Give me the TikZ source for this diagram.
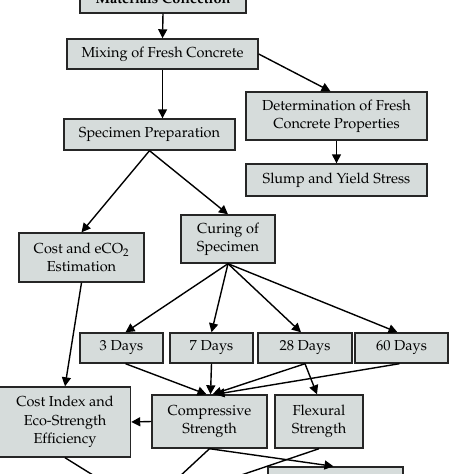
\documentclass[tikz,border=0pt]{standalone}
\usepackage[T1]{fontenc}
\usepackage{mathpazo}
\usetikzlibrary{arrows.meta}
\definecolor{boxfill}{RGB}{214,220,219}
\tikzset{box/.style={draw=black!85,fill=boxfill,line width=1.4pt,align=center,inner sep=0pt,font=\fontsize{14.5}{18.3}\selectfont},
  arr/.style={line width=1.4pt,-{Triangle[length=9pt,width=9pt]}}}
\begin{document}
\begin{tikzpicture}[x=1pt,y=-1pt]
\useasboundingbox (0,0) rectangle (474,474);
\clip (0,0) rectangle (474,474);
\node[box,minimum width=166pt,minimum height=30pt,font=\bfseries\fontsize{14.5}{18.3}\selectfont] at (163,-2) (a) {Materials Collection};
\node[box,minimum width=191pt,minimum height=30pt] at (162.5,54) (b) {Mixing of Fresh Concrete};
\node[box,minimum width=171pt,minimum height=31pt] at (149.5,134.5) (c) {Specimen Preparation};
\node[box,minimum width=181pt,minimum height=48pt] at (336.5,116) (d) {Determination of Fresh\\Concrete Properties};
\node[box,minimum width=181pt,minimum height=32pt] at (336.5,180) (e) {Slump and Yield Stress};
\node[box,minimum width=125pt,minimum height=49pt] at (81.5,257.5) (f) {Cost and eCO\textsubscript{2}\\Estimation};
\node[box,minimum width=94pt,minimum height=48pt] at (228,239) (g) {Curing of\\Specimen};
\node[box,minimum width=83pt,minimum height=30pt] at (121.5,348) (h) {3 Days};
\node[box,minimum width=83pt,minimum height=30pt] at (211.5,348) (i) {7 Days};
\node[box,minimum width=94pt,minimum height=30pt] at (305,348) (j) {28 Days};
\node[box,minimum width=93pt,minimum height=30pt] at (401.5,348) (l) {60 Days};
\node[box,minimum width=131pt,minimum height=70pt] at (65,422) (k) {Cost Index and\\Eco-Strength\\Efficiency};
\node[box,minimum width=115pt,minimum height=53pt] at (209.5,421.5) (m) {Compressive\\Strength};
\node[box,minimum width=88pt,minimum height=53pt] at (319,421.5) (o) {Flexural\\Strength};
\node[box,minimum width=135pt,minimum height=40pt] at (335.5,487) (n) {};
\coordinate (p) at (117,490);
\coordinate (q) at (165,490);
\coordinate (r) at (197,490);
\draw[arr] (a.south) -- (b.north);
\draw[arr] (b.south) -- (b.south |- c.north);
\draw[arr] (b.east) -- ([xshift=-6pt]d.north);
\draw[arr] (d.south) -- (e.north);
\draw[arr] (c.south) -- (f.north);
\draw[arr] (c.south) -- (g.north);
\draw[arr] (g.south) -- ([xshift=4pt]h.north);
\draw[arr] (g.south) -- (i.north);
\draw[arr] (g.south) -- ([xshift=-4pt]j.north);
\draw[arr] (g.south) -- ([xshift=-4pt]l.north);
\draw[arr] ([xshift=4pt]h.south) -- ([xshift=-3pt]m.north);
\draw[arr] (i.south) -- ([xshift=1pt]m.north);
\draw[arr] (j.south) -- ([xshift=3pt]m.north);
\draw[arr] ([xshift=-2pt]l.south) -- ([xshift=6pt]m.north);
\draw[arr] (j.south) -- ([xshift=-2pt]o.north);
\draw[arr] (f.south) -- (k.north);
\draw[arr] (m.west) -- (k.east);
\draw[line width=1.4pt] (k.south) -- (p);
\draw[line width=1.4pt] (m.south) -- (q);
\draw[line width=1.4pt] (o.south) -- (r);
\draw[arr] (m.south) -- ([xshift=-2pt]n.north);
\end{tikzpicture}
\end{document}
